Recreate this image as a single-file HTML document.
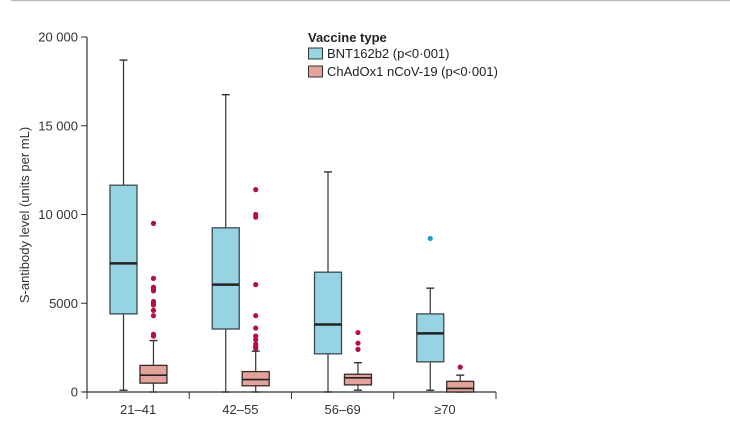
<!DOCTYPE html>
<html><head><meta charset="utf-8"><style>
body{margin:0;background:#fff;}
svg{display:block;font-family:"Liberation Sans",sans-serif;}
</style></head><body>
<svg id="chart" width="730" height="424" viewBox="0 0 730 424">
<line x1="11" y1="0.5" x2="730" y2="0.5" stroke="#bbb" stroke-width="1.5"/>
<g id="plot"></g>
</svg>
<script>
const categories=["21–41","42–55","56–69","≥70"];
const seriesNames=["BNT162b2 (p<0·001)","ChAdOx1 nCoV-19 (p<0·001)"];
// [low, q1, median, q3, high]
const bntStats=[[100,4400,7250,11650,18700],[0,3550,6050,9250,16750],[0,2150,3800,6750,12400],[100,1700,3300,4400,5850]];
const chadStats=[[0,500,950,1500,2900],[0,350,700,1150,2300],[100,400,800,1000,1650],[0,0,200,600,950]];
const bntOutliers=[[],[],[],[8650]];
const chadOutliers=[[9500,6400,5900,5800,5700,5100,5000,4900,4600,4300,3250,3150],[11400,10000,9850,6050,4300,3600,3150,2950,2700,2550,2450],[3350,2750,2400],[1400]];
const yTicks=[0,5000,10000,15000,20000];
const yTickLabels=["0","5000","10 000","15 000","20 000"];

const NS="http://www.w3.org/2000/svg";
const g=document.getElementById('plot');
const X0=87,X1=496,Y0=392,Y1=37;
const yScale=v=>Y0-(v/20000)*(Y0-Y1);
const gw=(X1-X0)/categories.length;
const xCenter=(i,s)=>X0+gw*i+gw*(s===0?0.357:0.65);
function mk(tag,attrs){const e=document.createElementNS(NS,tag);for(const k in attrs)e.setAttribute(k,attrs[k]);g.appendChild(e);return e;}

// axes
let ya=mk('line',{x1:X0,y1:Y1,x2:X0,y2:Y0,stroke:'#333','stroke-width':1.2});


let xa=mk('line',{x1:X0-4,y1:Y0,x2:X1,y2:Y0,stroke:'#333','stroke-width':1.2});


yTicks.forEach((v,i)=>{
  const y=yScale(v);
  let t=mk('line',{x1:X0-6,y1:y,x2:X0,y2:y,stroke:'#333','stroke-width':1});
  
  
  let l=mk('text',{x:X0-9,y:y+4.5,'text-anchor':'end','font-size':13,fill:'#333'});
  l.textContent=yTickLabels[i];
  
  
});
for(let i=0;i<=categories.length;i++){
  const x=X0+gw*i;
  let t=mk('line',{x1:x,y1:Y0,x2:x,y2:Y0+7,stroke:'#333','stroke-width':1});
  
  
}
categories.forEach((c,i)=>{
  let l=mk('text',{x:X0+gw*(i+0.5),y:Y0+22,'text-anchor':'middle','font-size':13,fill:'#333'});
  l.textContent=c;
  
  
});
let yt=mk('text',{x:0,y:0,'text-anchor':'middle','font-size':13,fill:'#333',transform:'translate(29,215) rotate(-90)'});
yt.textContent='S-antibody level (units per mL)';



function drawBox(st,outs,i,s){
  const cx=xCenter(i,s),bw=27;
  const fill=s===0?'#96d3e3':'#e2a39a',stroke=s===0?'#3a4a50':'#3a2a28';
  const pc=s===0?'#1f9bc9':'#b3123e';
  let w=mk('line',{x1:cx,y1:yScale(st[0]),x2:cx,y2:yScale(st[4]),stroke:'#333','stroke-width':1.2});
  
  
  [st[0],st[4]].forEach(v=>{
    let c=mk('line',{x1:cx-4,y1:yScale(v),x2:cx+4,y2:yScale(v),stroke:'#333','stroke-width':1.4});
    
    
  });
  let r=mk('rect',{x:cx-bw/2,y:yScale(st[3]),width:bw,height:yScale(st[1])-yScale(st[3]),fill:fill,stroke:stroke,'stroke-width':1.3});
  
  
  let m=mk('line',{x1:cx-bw/2,y1:yScale(st[2]),x2:cx+bw/2,y2:yScale(st[2]),stroke:'#222','stroke-width':s===0?2.5:1.6});
  
  
  outs.forEach(v=>{
    let p=mk('circle',{cx:cx,cy:yScale(v),r:2.6,fill:pc});
    
    
  });
}
categories.forEach((c,i)=>{drawBox(bntStats[i],bntOutliers[i],i,0);drawBox(chadStats[i],chadOutliers[i],i,1);});

// legend
let lt=mk('text',{x:308,y:42,'font-size':13,'font-weight':'bold',fill:'#222'});
lt.textContent='Vaccine type';


seriesNames.forEach((n,k)=>{
  const y=48+k*18;
  let s=mk('rect',{x:308.5,y:y,width:14,height:11,fill:k===0?'#96d3e3':'#e2a39a',stroke:'#333','stroke-width':1});
  
  
  let t=mk('text',{x:327,y:y+10,'font-size':13,fill:'#222'});
  t.textContent=n;
  
  
});
</script>
</body></html>
